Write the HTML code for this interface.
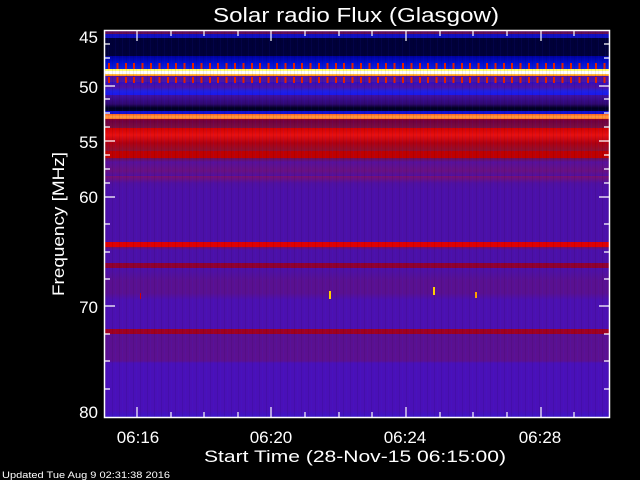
<!DOCTYPE html>
<html><head><meta charset="utf-8"><style>
html,body{margin:0;padding:0;background:#000;width:640px;height:480px;overflow:hidden}
#plot{position:absolute;left:105px;top:31px;width:504px;height:386px;
background:linear-gradient(to bottom,
#5a0a60 0px,#6a1050 3px,#1010c0 3px,#1010c0 7px,#000038 7px,#00003a 25px,#0000a0 25px,#0010d0 32px,#0a20e0 38px,
#ffff60 38px,#ffff80 40px,#ffffff 40px,#ffffff 43px,#ffd040 43px,#ff8020 45px,#5010a0 45px,#4818a8 51px,
#3010c0 51px,#5010a0 56px,#2020e0 60px,#1818f0 64px,#4010a0 64px,#300870 73px,#000020 77px,#000030 80px,#1010d0 80px,#1010d0 83px,
#ff6020 83px,#ffa040 86px,#ff7020 88px,#900020 88px,#700040 90px,#7a1040 97px,#d00000 97px,#e81010 104px,#b00010 112px,#901030 120px,
#c00000 120px,#c00000 127px,#701050 127px,#58109a 131px,#6a1080 140px,#5010a0 145px,#7a1070 145px,#5010a0 152px,#4c10a8 160px,
#4c10a8 211px,#e00000 211px,#e00000 216px,#701060 216px,#4c10a8 219px,#4c10a8 232px,#900030 232px,#900030 237px,#4c10a8 237px,
#5a1090 250px,#5a1090 262px,#4c10b0 269px,#4c10b0 298px,#a00020 298px,#a00020 303px,#5a1090 303px,#5c1090 330px,#4a10b8 332px,#4a10b8 380px,#3c14c8 386px);}
#tex{position:absolute;left:105px;top:31px;width:504px;height:386px;
background:repeating-linear-gradient(to right,rgba(0,0,0,0.08) 0 1px,rgba(255,255,255,0) 1px 3px,rgba(40,40,255,0.07) 3px 4px,rgba(0,0,0,0) 4px 7px);}
#pip1{position:absolute;left:105px;top:63px;width:504px;height:6px;
background:repeating-linear-gradient(to right,rgba(0,0,0,0) 0 3px,#e02000 3px 5px,rgba(0,0,0,0) 5px 8.4px);}
#pip2{position:absolute;left:105px;top:77px;width:504px;height:6px;
background:repeating-linear-gradient(to right,rgba(0,0,0,0) 0 3px,#e02000 3px 5px,rgba(0,0,0,0) 5px 8.4px);}
svg{position:absolute;left:0;top:0}
</style></head><body>
<div id="plot"></div><div id="tex"></div><div id="pip1"></div><div id="pip2"></div>
<svg width="640" height="480" xmlns="http://www.w3.org/2000/svg" font-family="Liberation Sans, sans-serif" fill="#fff">
<rect x="329" y="291" width="2" height="8" fill="#ffd000"/>
<rect x="433" y="287" width="2" height="8" fill="#ffd000"/>
<rect x="475" y="292" width="2" height="6" fill="#ffa000"/>
<rect x="140" y="293" width="1" height="6" fill="#d00000"/>
<g stroke="#fff" stroke-width="1.5" fill="none">
<rect x="104.5" y="30.5" width="505" height="387"/>
</g>
<g stroke="#fff" stroke-width="1.2">
<path d="M105 44H110M105 58H110M105 72H110M105 86H115M105 99H110M105 113H110M105 127H110M105 141H115M105 155H110M105 169H110M105 183H110M105 197H115M105 224H110M105 252H110M105 279H110M105 306H115M105 334H110M105 361H110M105 389H110"/>
<path d="M609 44H604M609 58H604M609 72H604M609 86H599M609 99H604M609 113H604M609 127H604M609 141H599M609 155H604M609 169H604M609 183H604M609 197H599M609 224H604M609 252H604M609 279H604M609 306H599M609 334H604M609 361H604M609 389H604"/>
<path d="M137 417V407M171 417V412M204 417V412M238 417V412M271 417V407M305 417V412M339 417V412M372 417V412M406 417V407M440 417V412M473 417V412M507 417V412M541 417V407M574 417V412"/>
<path d="M137 31V41M171 31V36M204 31V36M238 31V36M271 31V41M305 31V36M339 31V36M372 31V36M406 31V41M440 31V36M473 31V36M507 31V36M541 31V41M574 31V36"/>
</g>
<text x="356" y="22" font-size="20" text-anchor="middle" textLength="286" lengthAdjust="spacingAndGlyphs">Solar radio Flux (Glasgow)</text>
<g font-size="17" text-anchor="end">
<text x="98" y="43">45</text><text x="98" y="93">50</text><text x="98" y="148">55</text>
<text x="98" y="203">60</text><text x="98" y="313">70</text><text x="98" y="418">80</text>
</g>
<g font-size="17" text-anchor="middle">
<text x="138" y="443">06:16</text><text x="271" y="443">06:20</text><text x="405" y="443">06:24</text><text x="540" y="443">06:28</text>
</g>
<text x="355" y="462" font-size="17" text-anchor="middle" textLength="302" lengthAdjust="spacingAndGlyphs">Start Time (28-Nov-15 06:15:00)</text>
<text transform="translate(64,296) rotate(-90)" font-size="17" textLength="144" lengthAdjust="spacingAndGlyphs">Frequency [MHz]</text>
<text x="2" y="478" font-size="9" textLength="168" lengthAdjust="spacingAndGlyphs">Updated Tue Aug  9 02:31:38 2016</text>
</svg>
</body></html>
